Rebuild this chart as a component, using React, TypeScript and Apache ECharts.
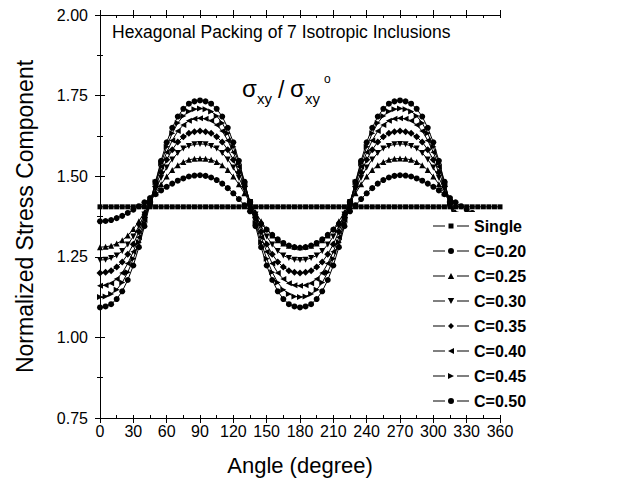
import React, { useEffect, useRef } from "react";
import * as echarts from "echarts";

const FONT = "'Liberation Sans', Arial, sans-serif";

const angles = [
  0, 5, 10, 15, 20, 25, 30, 35, 40, 45, 50, 55, 60, 65, 70, 75, 80, 85, 90,
  95, 100, 105, 110, 115, 120, 125, 130, 135, 140, 145, 150, 155, 160, 165, 170, 175, 180,
  185, 190, 195, 200, 205, 210, 215, 220, 225, 230, 235, 240, 245, 250, 255, 260, 265, 270,
  275, 280, 285, 290, 295, 300, 305, 310, 315, 320, 325, 330, 335, 340, 345, 350, 355, 360,
];

const single = [
  1.405, 1.405, 1.405, 1.405, 1.405, 1.405, 1.405, 1.405, 1.405, 1.405, 1.405, 1.405, 1.405, 1.405, 1.405, 1.405, 1.405, 1.405, 1.405,
  1.405, 1.405, 1.405, 1.405, 1.405, 1.405, 1.405, 1.405, 1.405, 1.405, 1.405, 1.405, 1.405, 1.405, 1.405, 1.405, 1.405, 1.405,
  1.405, 1.405, 1.405, 1.405, 1.405, 1.405, 1.405, 1.405, 1.405, 1.405, 1.405, 1.405, 1.405, 1.405, 1.405, 1.405, 1.405, 1.405,
  1.405, 1.405, 1.405, 1.405, 1.405, 1.405, 1.405, 1.405, 1.405, 1.405, 1.405, 1.405, 1.405, 1.405, 1.405, 1.405, 1.405, 1.405,
];

const c020 = [
  1.360, 1.361, 1.364, 1.370, 1.377, 1.386, 1.396, 1.407, 1.419, 1.432, 1.444, 1.456, 1.467, 1.477, 1.486, 1.493, 1.499, 1.502, 1.503,
  1.501, 1.496, 1.488, 1.477, 1.463, 1.447, 1.429, 1.410, 1.391, 1.371, 1.352, 1.334, 1.318, 1.304, 1.293, 1.285, 1.280, 1.278,
  1.280, 1.285, 1.293, 1.304, 1.318, 1.334, 1.352, 1.371, 1.391, 1.410, 1.429, 1.447, 1.463, 1.477, 1.488, 1.496, 1.501, 1.503,
  1.502, 1.499, 1.493, 1.486, 1.477, 1.467, 1.456, 1.444, 1.432, 1.419, 1.407, 1.396, 1.386, 1.377, 1.370, 1.364, 1.361, 1.360,
];

const c025 = [
  1.280, 1.281, 1.284, 1.291, 1.301, 1.316, 1.336, 1.360, 1.388, 1.418, 1.447, 1.475, 1.499, 1.519, 1.534, 1.544, 1.551, 1.554, 1.555,
  1.554, 1.551, 1.544, 1.534, 1.519, 1.499, 1.475, 1.447, 1.418, 1.388, 1.360, 1.336, 1.316, 1.301, 1.291, 1.284, 1.281, 1.280,
  1.281, 1.284, 1.291, 1.301, 1.316, 1.336, 1.360, 1.388, 1.418, 1.447, 1.475, 1.499, 1.519, 1.534, 1.544, 1.551, 1.554, 1.555,
  1.554, 1.551, 1.544, 1.534, 1.519, 1.499, 1.475, 1.447, 1.418, 1.388, 1.360, 1.336, 1.316, 1.301, 1.291, 1.284, 1.281, 1.280,
];

const c030 = [
  1.240, 1.241, 1.246, 1.254, 1.268, 1.288, 1.313, 1.345, 1.381, 1.420, 1.459, 1.495, 1.527, 1.552, 1.572, 1.586, 1.594, 1.599, 1.600,
  1.599, 1.594, 1.586, 1.572, 1.552, 1.527, 1.495, 1.459, 1.420, 1.381, 1.345, 1.313, 1.288, 1.268, 1.254, 1.246, 1.241, 1.240,
  1.241, 1.246, 1.254, 1.268, 1.288, 1.313, 1.345, 1.381, 1.420, 1.459, 1.495, 1.527, 1.552, 1.572, 1.586, 1.594, 1.599, 1.600,
  1.599, 1.594, 1.586, 1.572, 1.552, 1.527, 1.495, 1.459, 1.420, 1.381, 1.345, 1.313, 1.288, 1.268, 1.254, 1.246, 1.241, 1.240,
];

const c035 = [
  1.200, 1.202, 1.207, 1.218, 1.234, 1.258, 1.289, 1.328, 1.372, 1.420, 1.468, 1.512, 1.551, 1.582, 1.606, 1.622, 1.633, 1.638, 1.640,
  1.638, 1.633, 1.622, 1.606, 1.582, 1.551, 1.512, 1.468, 1.420, 1.372, 1.328, 1.289, 1.258, 1.234, 1.218, 1.207, 1.202, 1.200,
  1.202, 1.207, 1.218, 1.234, 1.258, 1.289, 1.328, 1.372, 1.420, 1.468, 1.512, 1.551, 1.582, 1.606, 1.622, 1.633, 1.638, 1.640,
  1.638, 1.633, 1.622, 1.606, 1.582, 1.551, 1.512, 1.468, 1.420, 1.372, 1.328, 1.289, 1.258, 1.234, 1.218, 1.207, 1.202, 1.200,
];

const c040 = [
  1.160, 1.162, 1.168, 1.181, 1.200, 1.229, 1.266, 1.311, 1.364, 1.420, 1.476, 1.529, 1.574, 1.611, 1.640, 1.659, 1.672, 1.678, 1.680,
  1.678, 1.672, 1.659, 1.640, 1.611, 1.574, 1.529, 1.476, 1.420, 1.364, 1.311, 1.266, 1.229, 1.200, 1.181, 1.168, 1.162, 1.160,
  1.162, 1.168, 1.181, 1.200, 1.229, 1.266, 1.311, 1.364, 1.420, 1.476, 1.529, 1.574, 1.611, 1.640, 1.659, 1.672, 1.678, 1.680,
  1.678, 1.672, 1.659, 1.640, 1.611, 1.574, 1.529, 1.476, 1.420, 1.364, 1.311, 1.266, 1.229, 1.200, 1.181, 1.168, 1.162, 1.160,
];

const c045 = [
  1.125, 1.127, 1.135, 1.148, 1.170, 1.202, 1.244, 1.295, 1.354, 1.418, 1.481, 1.540, 1.591, 1.633, 1.665, 1.687, 1.701, 1.708, 1.710,
  1.708, 1.701, 1.687, 1.665, 1.633, 1.591, 1.540, 1.481, 1.418, 1.354, 1.295, 1.244, 1.202, 1.170, 1.148, 1.135, 1.127, 1.125,
  1.127, 1.135, 1.148, 1.170, 1.202, 1.244, 1.295, 1.354, 1.418, 1.481, 1.540, 1.591, 1.633, 1.665, 1.687, 1.701, 1.708, 1.710,
  1.708, 1.701, 1.687, 1.665, 1.633, 1.591, 1.540, 1.481, 1.418, 1.354, 1.295, 1.244, 1.202, 1.170, 1.148, 1.135, 1.127, 1.125,
];

const c050 = [
  1.093, 1.096, 1.103, 1.119, 1.143, 1.178, 1.223, 1.280, 1.345, 1.414, 1.483, 1.548, 1.605, 1.650, 1.685, 1.709, 1.725, 1.732, 1.735,
  1.732, 1.725, 1.709, 1.685, 1.650, 1.605, 1.548, 1.483, 1.414, 1.345, 1.280, 1.223, 1.178, 1.143, 1.119, 1.103, 1.096, 1.093,
  1.096, 1.103, 1.119, 1.143, 1.178, 1.223, 1.280, 1.345, 1.414, 1.483, 1.548, 1.605, 1.650, 1.685, 1.709, 1.725, 1.732, 1.735,
  1.732, 1.725, 1.709, 1.685, 1.650, 1.605, 1.548, 1.483, 1.414, 1.345, 1.280, 1.223, 1.178, 1.143, 1.119, 1.103, 1.096, 1.093,
];

const seriesNames = ["Single", "C=0.20", "C=0.25", "C=0.30", "C=0.35", "C=0.40", "C=0.45", "C=0.50"];
const seriesValues = [single, c020, c025, c030, c035, c040, c045, c050];
const seriesSymbols = [
  "rect",
  "circle",
  "triangle",
  "path://M0,0 L10,0 L5,10 Z",
  "diamond",
  "path://M10,0 L10,10 L0,5 Z",
  "path://M0,0 L0,10 L10,5 Z",
  "circle",
];
const seriesSymbolSizes = [5, 6, 6, 6, 7, 6, 6, 6];

// legend glyphs: "— marker —" drawn in a 36 x 6 box
const LEG_LINES = "M0,2.5 L12,2.5 L12,3.5 L0,3.5 Z M24,2.5 L36,2.5 L36,3.5 L24,3.5 Z M0,0 L0.01,0 L0,0.01 Z M36,6 L35.99,6 L36,5.99 Z ";
const legendMarkers = [
  "M15.5,0.5 L20.5,0.5 L20.5,5.5 L15.5,5.5 Z",
  "M15,3 A3,3 0 1,0 21,3 A3,3 0 1,0 15,3 Z",
  "M18,0 L21.2,6 L14.8,6 Z",
  "M14.8,0 L21.2,0 L18,6 Z",
  "M18,0 L21,3 L18,6 L15,3 Z",
  "M15,3 L21,0 L21,6 Z",
  "M15,0 L21,3 L15,6 Z",
  "M15,3 A3,3 0 1,0 21,3 A3,3 0 1,0 15,3 Z",
];

const titleText = "Hexagonal Packing of 7 Isotropic Inclusions";
const xTitle = "Angle (degree)";
const yTitle = "Normalized Stress Component";

export default function App() {
  const ref = useRef<HTMLDivElement>(null);

  useEffect(() => {
    if (!ref.current) return;
    const chart = echarts.init(ref.current, null, { renderer: "svg" });

    const black = "#000";
    const baseAxis = {
      type: "value" as const,
      splitLine: { show: false },
      axisLine: { show: true, lineStyle: { color: black, width: 1 } },
      axisTick: { show: true, lineStyle: { color: black, width: 1 } },
    };

    const xAxes = [
      {
        ...baseAxis,
        position: "bottom",
        min: 0,
        max: 360,
        interval: 30,
        axisTick: { show: true, inside: false, length: 5, lineStyle: { color: black } },
        axisLabel: { show: true, margin: 5, fontSize: 16, color: black, fontFamily: FONT },
        name: xTitle,
        nameLocation: "middle",
        nameGap: 36,
        nameTextStyle: { fontSize: 22, color: black, fontFamily: FONT },
      },
      {
        ...baseAxis,
        position: "bottom",
        min: 0,
        max: 360,
        interval: 15,
        axisLine: { show: false },
        axisTick: { show: true, inside: true, length: 3, lineStyle: { color: black } },
        axisLabel: { show: false },
      },
      {
        ...baseAxis,
        position: "top",
        min: 0,
        max: 360,
        interval: 30,
        axisTick: { show: true, inside: false, length: 5, lineStyle: { color: black } },
        axisLabel: { show: false },
      },
      {
        ...baseAxis,
        position: "top",
        min: 0,
        max: 360,
        interval: 15,
        axisLine: { show: false },
        axisTick: { show: true, inside: true, length: 3, lineStyle: { color: black } },
        axisLabel: { show: false },
      },
    ];

    const yAxes = [
      {
        ...baseAxis,
        position: "left",
        min: 0.75,
        max: 2.0,
        interval: 0.25,
        axisTick: { show: true, inside: false, length: 5, lineStyle: { color: black } },
        axisLabel: {
          show: true,
          margin: 12,
          fontSize: 16,
          color: black,
          fontFamily: FONT,
          formatter: (v: number) => v.toFixed(2),
        },
        name: yTitle,
        nameLocation: "middle",
        nameGap: 64,
        nameTextStyle: { fontSize: 23, color: black, fontFamily: FONT },
      },
      {
        ...baseAxis,
        position: "left",
        min: 0.75,
        max: 2.0,
        interval: 0.125,
        axisLine: { show: false },
        axisTick: { show: true, inside: true, length: 3, lineStyle: { color: black } },
        axisLabel: { show: false },
      },
      {
        ...baseAxis,
        position: "right",
        min: 0.75,
        max: 2.0,
        interval: 0.25,
        axisTick: { show: true, inside: false, length: 5, lineStyle: { color: black } },
        axisLabel: { show: false },
      },
      {
        ...baseAxis,
        position: "right",
        min: 0.75,
        max: 2.0,
        interval: 0.125,
        axisLine: { show: false },
        axisTick: { show: true, inside: true, length: 3, lineStyle: { color: black } },
        axisLabel: { show: false },
      },
    ];

    const series = seriesNames.map((name, k) => ({
      name,
      type: "line",
      xAxisIndex: 0,
      yAxisIndex: 0,
      data: angles.map((a, i) => [a, seriesValues[k][i]]),
      symbol: seriesSymbols[k],
      symbolSize: seriesSymbolSizes[k],
      showSymbol: true,
      lineStyle: { color: black, width: 1 },
      itemStyle: { color: black },
      emphasis: { disabled: true },
      z: 2,
    }));

    const sigmaStyle = { fill: black, fontFamily: FONT, verticalAlign: "middle", align: "left" };

    chart.setOption({
      animation: false,
      backgroundColor: "#fff",
      grid: { left: 100, right: 130, top: 15, bottom: 79, containLabel: false },
      xAxis: xAxes,
      yAxis: yAxes,
      legend: {
        orient: "vertical",
        left: 429,
        top: 212,
        padding: [6, 6, 4, 4],
        backgroundColor: "#fff",
        z: 20,
        itemWidth: 36,
        itemHeight: 6,
        itemGap: 9,
        selectedMode: false,
        itemStyle: { color: black, borderWidth: 0 },
        data: seriesNames.map((n, k) => ({ name: n, icon: "path://" + LEG_LINES + legendMarkers[k] })),
        textStyle: { fontSize: 16, fontWeight: "bold", color: black, fontFamily: FONT, lineHeight: 16 },
      },
      graphic: [
        {
          type: "text",
          left: 112,
          top: 23,
          style: { text: titleText, fontSize: 17.5, fill: black, fontFamily: FONT },
        },
        { type: "text", x: 242, y: 88, style: { ...sigmaStyle, text: "σ", fontSize: 24 } },
        { type: "text", x: 257, y: 98, style: { ...sigmaStyle, text: "xy", fontSize: 15 } },
        { type: "text", x: 278, y: 90, style: { ...sigmaStyle, text: "/", fontSize: 23 } },
        { type: "text", x: 290, y: 88, style: { ...sigmaStyle, text: "σ", fontSize: 24 } },
        { type: "text", x: 305, y: 98, style: { ...sigmaStyle, text: "xy", fontSize: 15 } },
        { type: "text", x: 324, y: 79, style: { ...sigmaStyle, text: "o", fontSize: 12 } },
      ],
      series,
    });

    return () => chart.dispose();
  }, []);

  return (
    <div
      ref={ref}
      style={{ position: "absolute", left: 0, top: 0, width: 630, height: 497, background: "#fff" }}
    />
  );
}
